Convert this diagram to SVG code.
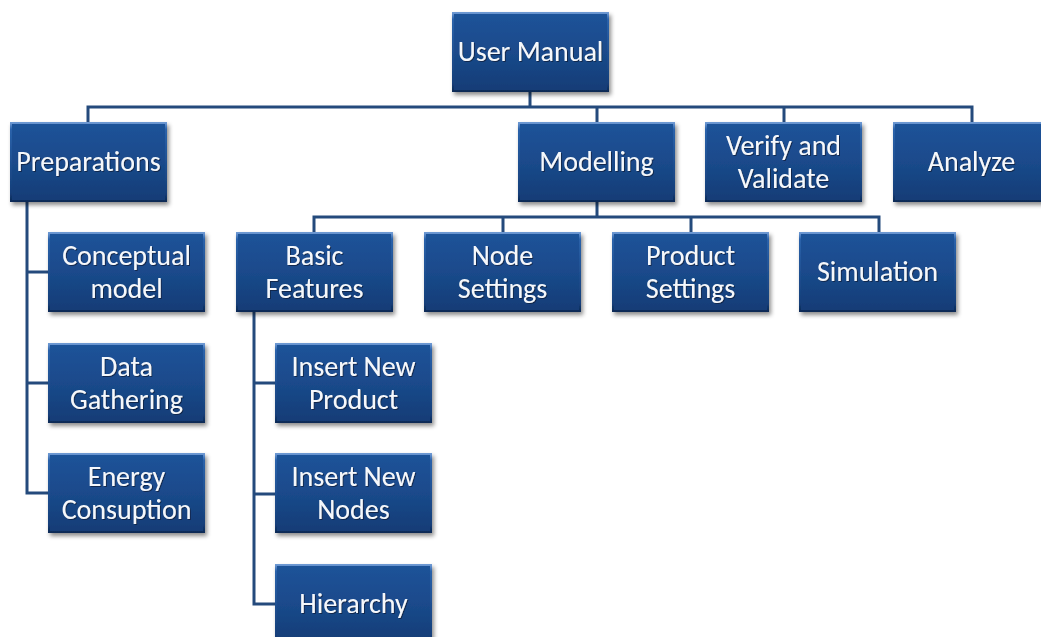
<svg xmlns="http://www.w3.org/2000/svg" width="1041" height="637" viewBox="0 0 1041 637">
  <defs>
    <linearGradient id="boxFill" x1="0" y1="0" x2="0" y2="1">
      <stop offset="0" stop-color="#1d5399"/>
      <stop offset="0.5" stop-color="#1a4a8b"/>
      <stop offset="1" stop-color="#133c76"/>
    </linearGradient>
    <linearGradient id="boxEdge" x1="0" y1="0" x2="0" y2="1">
      <stop offset="0" stop-color="#6c98d2"/>
      <stop offset="0.08" stop-color="#2a62aa"/>
      <stop offset="0.9" stop-color="#153f7a"/>
      <stop offset="1" stop-color="#0c2b57"/>
    </linearGradient>
    <filter id="shadow" x="-10%" y="-10%" width="125%" height="130%">
      <feDropShadow dx="2" dy="3" stdDeviation="2" flood-color="#000" flood-opacity="0.45"/>
    </filter>
    <filter id="textShadow" x="-5%" y="-20%" width="110%" height="150%">
      <feDropShadow dx="1" dy="1" stdDeviation="0.6" flood-color="#08203f" flood-opacity="0.8"/>
    </filter>
  </defs>
  <style>
    .box { fill: url(#boxFill); stroke: url(#boxEdge); stroke-width: 2; filter: url(#shadow); }
    .label { font-family: Carlito, Lato, "Liberation Sans", sans-serif; font-size: 28px; fill: #f5f8fc; text-anchor: middle; filter: url(#textShadow); }
    .link { fill: none; stroke: #244a7c; stroke-width: 3; }
  </style>
  <rect width="1041" height="637" fill="#ffffff"/>

  <!-- connectors -->
  <g id="connectors">
    <path class="link" d="M530,91 V107 M88,123 V107 H972 V123 M597,107 V123 M784,107 V123"/>
    <path class="link" d="M597,201 V217 M314,233 V217 H879 V233 M503,217 V233 M691,217 V233"/>
    <path class="link" d="M27,201 V493 H49 M27,272 H49 M27,383 H49"/>
    <path class="link" d="M254,311 V604 H276 M254,383 H276 M254,494 H276"/>
  </g>

  <!-- nodes -->
  <g id="user-manual">
    <rect class="box" x="453" y="13" width="155" height="78"/>
    <text class="label" x="530.5" y="61">User Manual</text>
  </g>
  <g id="preparations">
    <rect class="box" x="11" y="123" width="155" height="78"/>
    <text class="label" x="88.5" y="171">Preparations</text>
  </g>
  <g id="modelling">
    <rect class="box" x="519" y="123" width="155" height="78"/>
    <text class="label" x="596.5" y="171">Modelling</text>
  </g>
  <g id="verify-validate">
    <rect class="box" x="706" y="123" width="155" height="78"/>
    <text class="label" x="783.5" y="155">Verify and</text>
    <text class="label" x="783.5" y="188">Validate</text>
  </g>
  <g id="analyze">
    <rect class="box" x="894" y="123" width="155" height="78"/>
    <text class="label" x="971.5" y="171">Analyze</text>
  </g>
  <g id="conceptual-model">
    <rect class="box" x="49" y="233" width="155" height="78"/>
    <text class="label" x="126.5" y="265">Conceptual</text>
    <text class="label" x="126.5" y="298">model</text>
  </g>
  <g id="data-gathering">
    <rect class="box" x="49" y="344" width="155" height="78"/>
    <text class="label" x="126.5" y="376">Data</text>
    <text class="label" x="126.5" y="409">Gathering</text>
  </g>
  <g id="energy-consuption">
    <rect class="box" x="49" y="454" width="155" height="78"/>
    <text class="label" x="126.5" y="486">Energy</text>
    <text class="label" x="126.5" y="519">Consuption</text>
  </g>
  <g id="basic-features">
    <rect class="box" x="237" y="233" width="155" height="78"/>
    <text class="label" x="314.5" y="265">Basic</text>
    <text class="label" x="314.5" y="298">Features</text>
  </g>
  <g id="node-settings">
    <rect class="box" x="425" y="233" width="155" height="78"/>
    <text class="label" x="502.5" y="265">Node</text>
    <text class="label" x="502.5" y="298">Settings</text>
  </g>
  <g id="product-settings">
    <rect class="box" x="613" y="233" width="155" height="78"/>
    <text class="label" x="690.5" y="265">Product</text>
    <text class="label" x="690.5" y="298">Settings</text>
  </g>
  <g id="simulation">
    <rect class="box" x="800" y="233" width="155" height="78"/>
    <text class="label" x="877.5" y="281">Simulation</text>
  </g>
  <g id="insert-new-product">
    <rect class="box" x="276" y="344" width="155" height="78"/>
    <text class="label" x="353.5" y="376">Insert New</text>
    <text class="label" x="353.5" y="409">Product</text>
  </g>
  <g id="insert-new-nodes">
    <rect class="box" x="276" y="454" width="155" height="78"/>
    <text class="label" x="353.5" y="486">Insert New</text>
    <text class="label" x="353.5" y="519">Nodes</text>
  </g>
  <g id="hierarchy">
    <rect class="box" x="276" y="565" width="155" height="78"/>
    <text class="label" x="353.5" y="613">Hierarchy</text>
  </g>
</svg>
